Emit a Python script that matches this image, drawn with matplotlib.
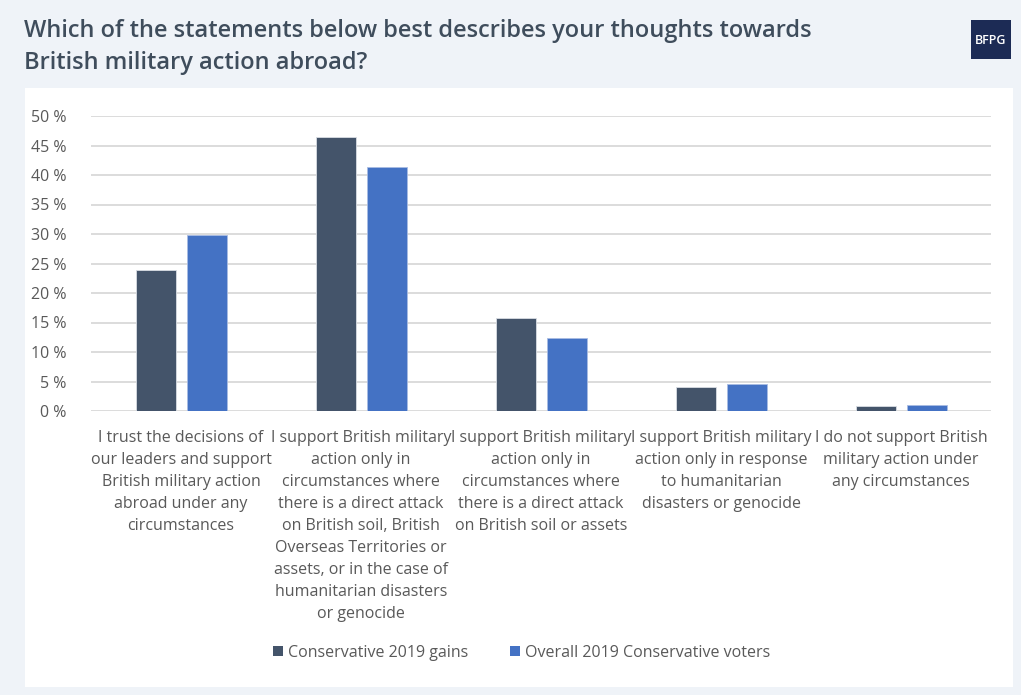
import matplotlib.pyplot as plt
from matplotlib.patches import Rectangle, Patch
import numpy as np

# Data
categories = [
    "I trust the decisions of\nour leaders and support\nBritish military action\nabroad under any\ncircumstances",
    "I support British military\naction only in\ncircumstances where\nthere is a direct attack\non British soil, British\nOverseas Territories or\nassets, or in the case of\nhumanitarian disasters\nor genocide",
    "I support British military\naction only in\ncircumstances where\nthere is a direct attack\non British soil or assets",
    "I support British military\naction only in response\nto humanitarian\ndisasters or genocide",
    "I do not support British\nmilitary action under\nany circumstances",
]
gains_2019 = [23.9, 46.5, 15.7, 4.1, 0.8]
overall_2019 = [29.9, 41.3, 12.4, 4.6, 1.0]
series_names = ["Conservative 2019 gains", "Overall 2019 Conservative voters"]
yticks = [0, 5, 10, 15, 20, 25, 30, 35, 40, 45, 50]

# Style
plt.rcParams['font.family'] = ['Open Sans', 'DejaVu Sans']
bg = '#eff3f8'
dark = '#44546a'
blue = '#4472c4'
text_grey = '#595959'
W, H = 1021, 695

fig = plt.figure(figsize=(W/100, H/100), dpi=100, facecolor=bg)

# White chart panel (behind the axes)
fig.patches.append(Rectangle((25/W, 1-687/H), (1013-25)/W, (687-88)/H,
                             transform=fig.transFigure, facecolor='white',
                             edgecolor='none', zorder=-10))

# Title and logo
fig.text(24/W, 1-47/H, "Which of the statements below best describes your thoughts towards\nBritish military action abroad?",
         ha='left', va='center', fontsize=17, color='#3f4d5c', fontweight='semibold',
         linespacing=1.45)
fig.patches.append(Rectangle((971/W, 1-59/H), 40/W, 39/H, transform=fig.transFigure,
                             facecolor='#1c2b55', edgecolor='none', zorder=2))
fig.text(991/W, 1-40/H, "BFPG", ha='center', va='center', fontsize=9, color='white',
         fontweight='semibold', zorder=3)

ax = fig.add_axes([91/W, 1-411/H, 900/W, 295/H])
ax.set_facecolor('none')
x = np.arange(len(categories))
bw = 40/180
off = 25.5/180
ax.bar(x - off, gains_2019, bw, color=dark, edgecolor='#d9dde3', linewidth=0.6, zorder=3, label=series_names[0])
ax.bar(x + off, overall_2019, bw, color=blue, edgecolor='#a9bce3', linewidth=0.6, zorder=3, label=series_names[1])

ax.set_xlim(-0.5, len(categories) - 0.5)
ax.set_ylim(0, 50)
ax.set_yticks(yticks)
ax.set_yticklabels([f"{v} %" for v in yticks])
ax.yaxis.grid(True, color='#d9d9d9', linewidth=1.3, zorder=0)
ax.set_axisbelow(True)
for s in ax.spines.values():
    s.set_visible(False)
ax.tick_params(axis='y', length=0, pad=18, labelsize=11.5, labelcolor=text_grey)
ax.set_xticks(x)
ax.set_xticklabels(categories, fontsize=11.5, color=text_grey, linespacing=1.5)
ax.tick_params(axis='x', length=0, pad=14)

handles = [Patch(facecolor=dark, edgecolor='none'), Patch(facecolor=blue, edgecolor='none')]
fig.legend(handles, series_names, loc='center', bbox_to_anchor=(522/W, 1-653/H), ncol=2,
           frameon=False, handlelength=0.6, handleheight=0.6, handletextpad=0.35,
           columnspacing=2.6, fontsize=11.5, labelcolor=text_grey)

fig.savefig('out.png', dpi=100, facecolor=bg)
